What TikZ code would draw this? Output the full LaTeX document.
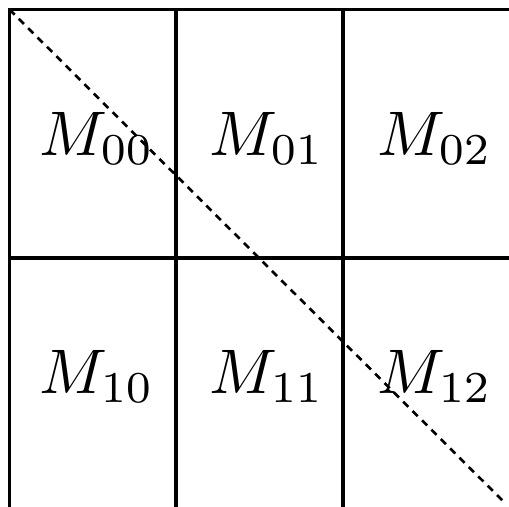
\documentclass[tikz,border=0pt]{standalone}
\begin{document}
\begin{tikzpicture}[x=0.1587pt,y=-0.1587pt,
  gridline/.style={line width=0.52pt, line cap=rect},
  diagline/.style={line width=0.42pt, dash pattern=on 1.15pt off 0.95pt},
  cell/.style={anchor=base, inner sep=0pt}]
\useasboundingbox (0,0) rectangle (509,506);
\coordinate (tl) at (9.5,9.5);
\coordinate (tr) at (509,9.5);
\coordinate (br) at (506,504);
\draw[gridline] (tl) -- (tr);
\draw[gridline] (tl) -- (9.5,506);
\draw[gridline] (176,9.5) -- (176,506);
\draw[gridline] (343,9.5) -- (343,506);
\draw[gridline] (9.5,258) -- (509,258);
\draw[diagline] (tl) -- (br);
\node[cell] (m00) at (97,155) {$M_{00}$};
\node[cell] (m01) at (267,155) {$M_{01}$};
\node[cell] (m02) at (435,155) {$M_{02}$};
\node[cell] (m10) at (97,393) {$M_{10}$};
\node[cell] (m11) at (267,393) {$M_{11}$};
\node[cell] (m12) at (435,393) {$M_{12}$};
\end{tikzpicture}
\end{document}
